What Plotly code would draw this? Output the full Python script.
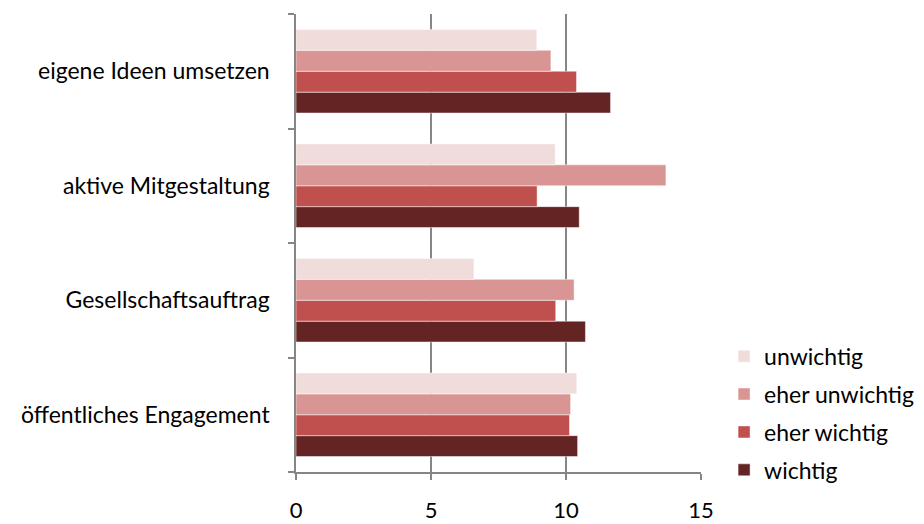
import plotly.graph_objects as go

# Categories listed bottom-to-top (Plotly draws the first category at the bottom)
categories = ["öffentliches Engagement", "Gesellschaftsauftrag",
              "aktive Mitgestaltung", "eigene Ideen umsetzen"]

# Series values per category (same order as categories)
wichtig = [10.43, 10.72, 10.49, 11.65]
eher_wichtig = [10.13, 9.62, 8.93, 10.39]
eher_unwichtig = [10.17, 10.30, 13.70, 9.44]
unwichtig = [10.40, 6.59, 9.60, 8.92]

# (name, values, colour, legend rank)
series = [
    ("wichtig", wichtig, "#632423", 4),
    ("eher wichtig", eher_wichtig, "#C0504D", 3),
    ("eher unwichtig", eher_unwichtig, "#D99594", 2),
    ("unwichtig", unwichtig, "#F0DCDB", 1),
]

x_ticks = [0, 5, 10, 15]

font_family = "Lato, 'Open Sans', sans-serif"

fig = go.Figure()
for name, vals, color, rank in series:
    fig.add_trace(go.Bar(
        y=categories, x=vals, name=name, orientation="h",
        marker=dict(color=color, line=dict(color="rgba(255,255,255,0.6)", width=0.8)),
        legendgroup=name, legendrank=rank,
    ))

fig.update_layout(
    width=924, height=524,
    margin=dict(l=296, r=223, t=14, b=52, autoexpand=False),
    paper_bgcolor="white", plot_bgcolor="white",
    barmode="group", bargap=0.27, bargroupgap=0,
    font=dict(family=font_family, size=23, color="#000000"),
    showlegend=True,
    legend=dict(
        x=1.057, xanchor="left", y=-0.043, yanchor="bottom",
        traceorder="grouped", tracegroupgap=5,
        font=dict(size=23), itemwidth=30,
        bgcolor="rgba(0,0,0,0)",
    ),
    xaxis=dict(
        range=[0, 15], tickvals=x_ticks, ticktext=[str(t) for t in x_ticks],
        tickfont=dict(size=22),
        showgrid=True, gridcolor="#868686", gridwidth=1.5,
        showline=True, linecolor="#868686", linewidth=1.5,
        ticks="outside", ticklen=6, tickcolor="#868686", tickwidth=1.5,
        zeroline=False, ticklabelstandoff=12,
    ),
    yaxis=dict(
        type="category", categoryorder="array", categoryarray=categories,
        showgrid=False, showline=True, linecolor="#868686", linewidth=1.5,
        ticks="outside", ticklen=6, tickcolor="#868686", tickwidth=1.5,
        tickson="boundaries", ticklabelstandoff=20,
    ),
)

fig.write_html("out.html")
